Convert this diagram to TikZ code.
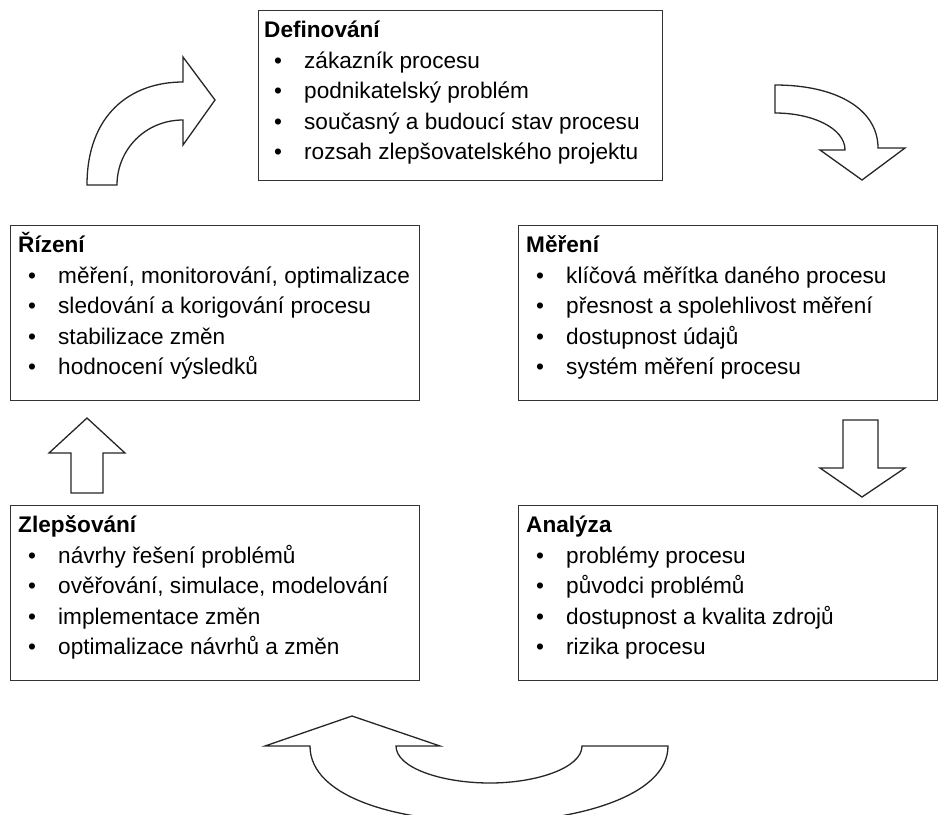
\documentclass[tikz,border=0pt]{standalone}
\usepackage{fontspec}
\setmainfont{Liberation Sans}
\usetikzlibrary{positioning}
\newcommand{\bul}{\makebox[40pt][l]{\hspace{10pt}\textbullet}}
\begin{document}
\begin{tikzpicture}[x=1pt, y=-1pt,
  stage/.style={draw=black!80, line width=1.4pt, anchor=north west, inner sep=0pt},
  stagetext/.style={anchor=north west, align=left, inner sep=0pt, font=\fontsize{22.6}{30.5}\selectfont},
  bigarrow/.style={draw=black!85, line width=1.3pt, fill=white, line join=miter}]
  \useasboundingbox (0,0) rectangle (949,814);
  % the five boxes
  \node[stage, minimum width=404, minimum height=170] (def) at (258,10) {};
  \node[stage, minimum width=409, minimum height=175] (rizeni) at (10,225) {};
  \node[stage, minimum width=419, minimum height=175] (mereni) at (518,225) {};
  \node[stage, minimum width=409, minimum height=175] (zlepsovani) at (10,505) {};
  \node[stage, minimum width=419, minimum height=175] (analyza) at (518,505) {};
  % texts
  \node[stagetext, below right=6pt and 6pt of def.north west] (def-text) {\textbf{Definování}\strut\\
    \bul zákazník procesu\\
    \bul podnikatelský problém\\
    \bul současný a budoucí stav procesu\\
    \bul rozsah zlepšovatelského projektu};
  \node[stagetext, below right=6pt and 8pt of rizeni.north west] (rizeni-text) {\textbf{Řízení}\strut\\
    \bul měření, monitorování, optimalizace\\
    \bul sledování a korigování procesu\\
    \bul stabilizace změn\\
    \bul hodnocení výsledků};
  \node[stagetext, below right=6pt and 8pt of mereni.north west] (mereni-text) {\textbf{Měření}\strut\\
    \bul klíčová měřítka daného procesu\\
    \bul přesnost a spolehlivost měření\\
    \bul dostupnost údajů\\
    \bul systém měření procesu};
  \node[stagetext, below right=6pt and 8pt of zlepsovani.north west] (zlepsovani-text) {\textbf{Zlepšování}\strut\\
    \bul návrhy řešení problémů\\
    \bul ověřování, simulace, modelování\\
    \bul implementace změn\\
    \bul optimalizace návrhů a změn};
  \node[stagetext, below right=6pt and 8pt of analyza.north west] (analyza-text) {\textbf{Analýza}\strut\\
    \bul problémy procesu\\
    \bul původci problémů\\
    \bul dostupnost a kvalita zdrojů\\
    \bul rizika procesu};
  % block arrows
  \draw[bigarrow] (87,185) .. controls (87,115) and (130,82) .. (183,82) -- (183,57) -- (215,100)
    -- (183,145) -- (183,120) .. controls (145,120) and (117,150) .. (117,185) -- cycle;
  \draw[bigarrow] (775,113) -- (775,85) .. controls (838,85) and (878,110) .. (878,148) -- (905,148)
    -- (862,180) -- (820,150) -- (845,150) .. controls (845,128) and (812,113) .. (775,113) -- cycle;
  \draw[bigarrow] (843,420) -- (878,420) -- (878,468) -- (905,468) -- (862,497) -- (820,468) -- (843,468) -- cycle;
  \draw[bigarrow] (71,493) -- (71,453) -- (49,453) -- (87,418) -- (125,453) -- (103,453) -- (103,493) -- cycle;
  \draw[bigarrow] (668,746) .. controls (668,798) and (570,822) .. (490,822) .. controls (400,822) and (310,798) .. (310,746)
    -- (265,746) -- (352,716) -- (440,746) -- (396,746) .. controls (396,768) and (442,783) .. (490,783)
    .. controls (536,783) and (582,768) .. (582,746) -- cycle;
\end{tikzpicture}
\end{document}
